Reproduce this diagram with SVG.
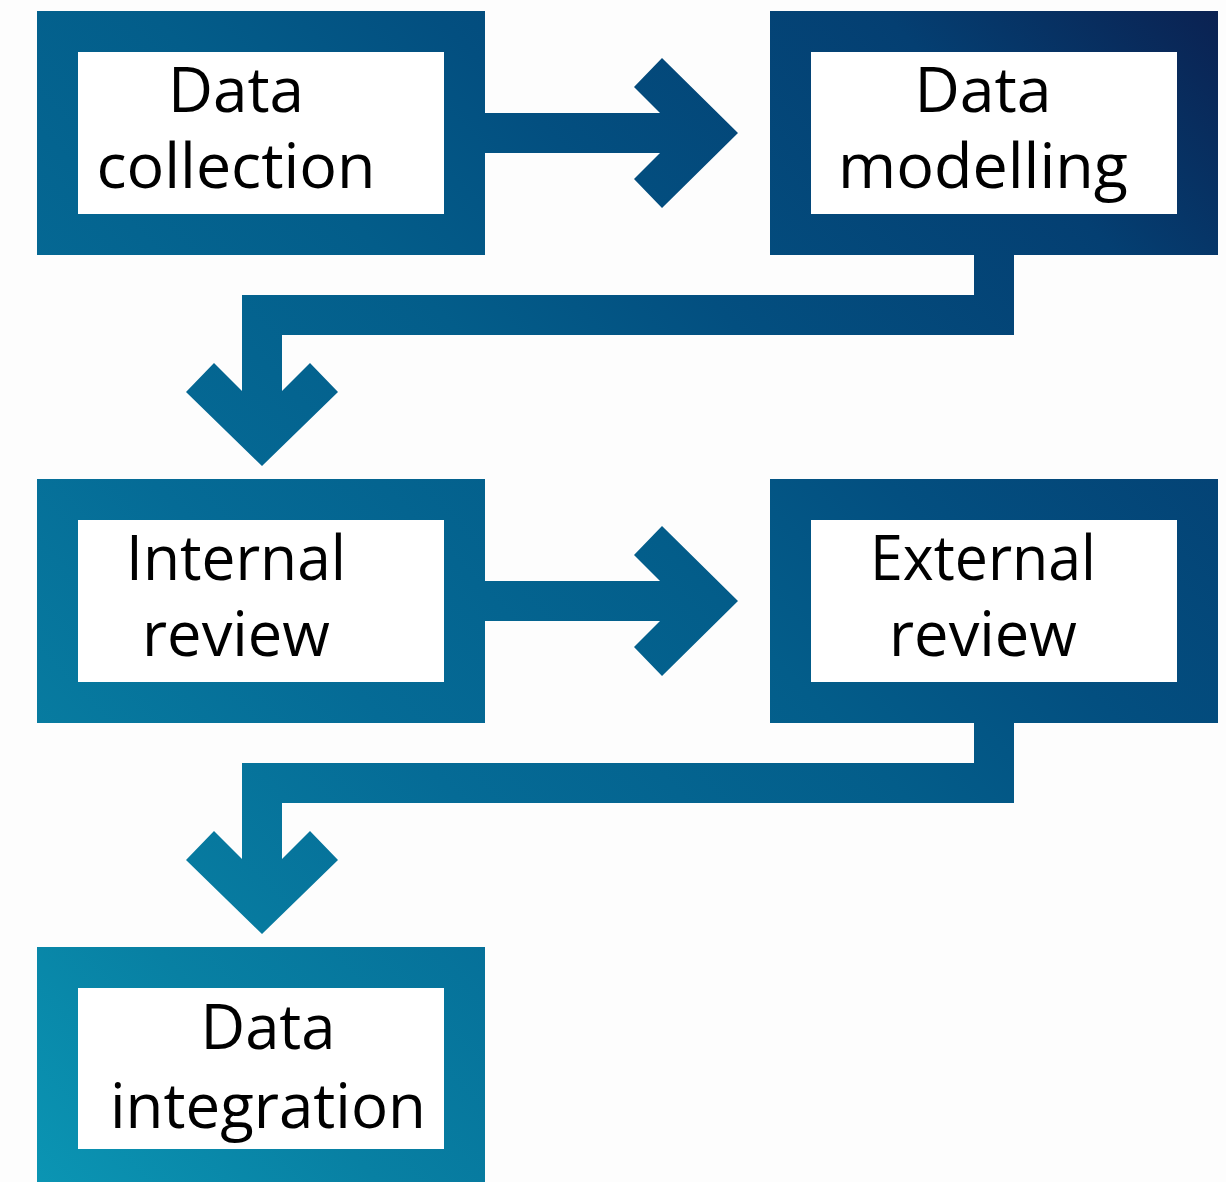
<svg xmlns="http://www.w3.org/2000/svg" width="1226" height="1182" viewBox="0 0 1226 1182">
<defs>
<linearGradient id="g" gradientUnits="userSpaceOnUse" x1="0" y1="1182" x2="1226" y2="0">
<stop offset="0" stop-color="#0b97b5"/>
<stop offset="0.16" stop-color="#0880a3"/>
<stop offset="0.35" stop-color="#056b96"/>
<stop offset="0.54" stop-color="#035d8a"/>
<stop offset="0.66" stop-color="#034f80"/>
<stop offset="0.85" stop-color="#043f72"/>
<stop offset="1" stop-color="#0b2050"/>
</linearGradient>
<style>
.outer{fill:url(#g);}
.inner{fill:#ffffff;}
.conn{fill:url(#g);}
.lbl{font-family:"Open Sans","Noto Sans",sans-serif;font-size:62px;fill:#000000;text-anchor:middle;}
</style>
</defs>
<rect width="1226" height="1182" fill="#fdfdfd"/>
<g id="connectors">
<polygon class="conn" points="484,113 660,113 634,87 662,58 738,133 662,208 634,179 660,153 484,153"/>
<polygon class="conn" points="484,581 660,581 634,555 662,526 738,601 662,676 634,647 660,621 484,621"/>
<polygon class="conn" points="974,254 1014,254 1014,335 282,335 282,391 310,363 338,392 262,466 186,392 214,363 242,391 242,295 974,295"/>
<polygon class="conn" points="974,722 1014,722 1014,803 282,803 282,859 310,831 338,860 262,934 186,860 214,831 242,859 242,763 974,763"/>
</g>
<g id="node-data-collection">
<rect class="outer" x="37" y="11" width="448" height="244"/>
<rect class="inner" x="78" y="52" width="366" height="162"/>
<text class="lbl" x="236" y="112" textLength="136" lengthAdjust="spacingAndGlyphs">Data</text>
<text class="lbl" x="236" y="188" textLength="279" lengthAdjust="spacingAndGlyphs">collection</text>
</g>
<g id="node-data-modelling">
<rect class="outer" x="770" y="11" width="448" height="244"/>
<rect class="inner" x="811" y="52" width="366" height="162"/>
<text class="lbl" x="983" y="112" textLength="137" lengthAdjust="spacingAndGlyphs">Data</text>
<text class="lbl" x="983" y="188" textLength="290" lengthAdjust="spacingAndGlyphs">modelling</text>
</g>
<g id="node-internal-review">
<rect class="outer" x="37" y="479" width="448" height="244"/>
<rect class="inner" x="78" y="520" width="366" height="162"/>
<text class="lbl" x="236" y="580" textLength="220" lengthAdjust="spacingAndGlyphs">Internal</text>
<text class="lbl" x="236" y="656" textLength="188" lengthAdjust="spacingAndGlyphs">review</text>
</g>
<g id="node-external-review">
<rect class="outer" x="770" y="479" width="448" height="244"/>
<rect class="inner" x="811" y="520" width="366" height="162"/>
<text class="lbl" x="983" y="580" textLength="226" lengthAdjust="spacingAndGlyphs">External</text>
<text class="lbl" x="983" y="656" textLength="188" lengthAdjust="spacingAndGlyphs">review</text>
</g>
<g id="node-data-integration">
<rect class="outer" x="37" y="947" width="448" height="244"/>
<rect class="inner" x="78" y="988" width="366" height="161"/>
<text class="lbl" x="268" y="1049" textLength="135" lengthAdjust="spacingAndGlyphs">Data</text>
<text class="lbl" x="268" y="1128" textLength="316" lengthAdjust="spacingAndGlyphs">integration</text>
</g>
</svg>
